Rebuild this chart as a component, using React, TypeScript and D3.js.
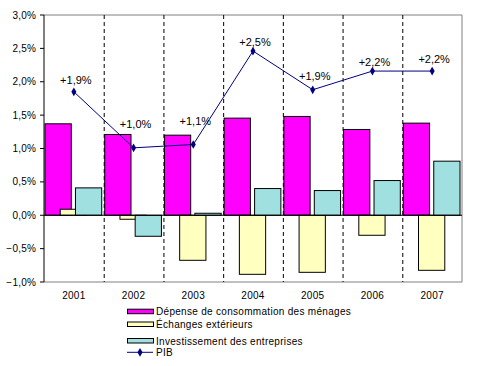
import * as d3 from 'd3';

const years = ['2001', '2002', '2003', '2004', '2005', '2006', '2007'];
const menages = [1.37, 1.21, 1.2, 1.455, 1.48, 1.285, 1.38];
const echanges = [0.09, -0.06, -0.675, -0.885, -0.855, -0.3, -0.825];
const investissement = [0.41, -0.315, 0.03, 0.4, 0.37, 0.52, 0.81];
const pib = [1.85, 1.01, 1.06, 2.46, 1.88, 2.16, 2.16];
const pibLabels = ['+1,9%', '+1,0%', '+1,1%', '+2,5%', '+1,9%', '+2,2%', '+2,2%'];
const yTicks = [-1, -0.5, 0, 0.5, 1, 1.5, 2, 2.5, 3];
const legendNames = [
  'Dépense de consommation des ménages',
  'Échanges extérieurs',
  'Investissement des entreprises',
  'PIB',
];

// label offsets above the point, as placed in the original
const labelLift = [12, 24, 23, 9, 14, 9, 12];

const width = 486;
const height = 366;
const margin = { top: 15, right: 24, bottom: 84, left: 44 };
const font = '"Liberation Sans", Arial, sans-serif';

const colors = { menages: '#ff00ff', echanges: '#ffffc0', invest: '#a0e0e0', pib: '#000080' };

function App() {
  const innerW = width - margin.left - margin.right;
  const innerH = height - margin.top - margin.bottom;

  const x = d3.scaleBand().domain(years).range([0, innerW]);
  const y = d3.scaleLinear().domain([-1, 3]).range([innerH, 0]);
  const step = x.bandwidth();
  const barW = step * 0.44;
  const shift = step * 0.255;

  const fmt = (v: number) => d3.format('.1f')(v).replace('.', ',') + '%';

  const series = [
    { vals: menages, color: colors.menages, off: 1 },
    { vals: echanges, color: colors.echanges, off: 1 + shift },
    { vals: investissement, color: colors.invest, off: 1 + 2 * shift },
  ];

  const line = d3
    .line<number>()
    .x((_, i) => (x(years[i]) as number) + step / 2)
    .y(d => y(d));

  const legendRows = [311.7, 324.5, 341, 352.3];

  return (
    <svg width={width} height={height} style={{ position: 'absolute', left: 0, top: 0 }} fontFamily={font}>
      <rect width={width} height={height} fill="#fff" />
      <g transform={`translate(${margin.left},${margin.top})`}>
        {/* plot frame */}
        <line x1={0} x2={innerW} y1={0} y2={0} stroke="#808080" />
        <line x1={innerW} x2={innerW} y1={0} y2={innerH} stroke="#808080" />
        <line x1={0} x2={innerW} y1={innerH} y2={innerH} stroke="#808080" />

        {/* category separators */}
        {years.slice(1).map(yr => (
          <line
            key={yr}
            x1={(x(yr) as number) + 0.5}
            x2={(x(yr) as number) + 0.5}
            y1={0}
            y2={innerH}
            stroke="#000"
            strokeDasharray="4,3"
          />
        ))}

        {/* bars */}
        {series.map((s, si) =>
          s.vals.map((v, i) => (
            <rect
              key={`${si}-${i}`}
              x={(x(years[i]) as number) + s.off}
              y={Math.min(y(v), y(0))}
              width={barW}
              height={Math.abs(y(v) - y(0))}
              fill={s.color}
              stroke="#000"
              strokeWidth={1}
            />
          ))
        )}

        {/* zero line */}
        <line x1={0} x2={innerW} y1={y(0)} y2={y(0)} stroke="#000" />

        {/* y axis */}
        <line x1={0} x2={0} y1={0} y2={innerH} stroke="#000" />
        {yTicks.map(t => (
          <g key={t} transform={`translate(0,${y(t)})`}>
            <line x1={-4} x2={0} stroke="#000" />
            <text x={-8} dy="0.35em" textAnchor="end" fontSize={10} fill="#000" letterSpacing={0.2}>
              {fmt(t)}
            </text>
          </g>
        ))}

        {/* category labels */}
        {years.map(yr => (
          <text
            key={yr}
            x={(x(yr) as number) + step / 2}
            y={innerH + 17}
            textAnchor="middle"
            fontSize={10}
            fill="#000"
            letterSpacing={0.3}
          >
            {yr}
          </text>
        ))}

        {/* PIB line */}
        <path d={line(pib) as string} fill="none" stroke={colors.pib} strokeWidth={1} />
        {pib.map((v, i) => (
          <g key={i}>
            <path
              d={d3.symbol(d3.symbolDiamond, 22)() as string}
              transform={`translate(${(x(years[i]) as number) + step / 2},${y(v)})`}
              fill={colors.pib}
            />
            <text
              x={(x(years[i]) as number) + step / 2 + 2}
              y={y(v) - labelLift[i]}
              dy="0.35em"
              textAnchor="middle"
              fontSize={11}
              fill="#000"
            >
              {pibLabels[i]}
            </text>
          </g>
        ))}
      </g>

      {/* legend */}
      <g fontSize={10} fill="#000">
        {legendNames.map((name, i) => (
          <g key={name} transform={`translate(127,${legendRows[i]})`}>
            {i < 3 ? (
              <rect x={0.5} y={-2.5} width={26} height={4.5} fill={series[i].color} stroke="#000" />
            ) : (
              <g>
                <line x1={0} x2={26} y1={0} y2={0} stroke={colors.pib} />
                <path d={d3.symbol(d3.symbolDiamond, 22)() as string} transform="translate(13,0)" fill={colors.pib} />
              </g>
            )}
            <text x={29} dy="0.35em" letterSpacing={0.3}>
              {name}
            </text>
          </g>
        ))}
      </g>
    </svg>
  );
}

export default App;
